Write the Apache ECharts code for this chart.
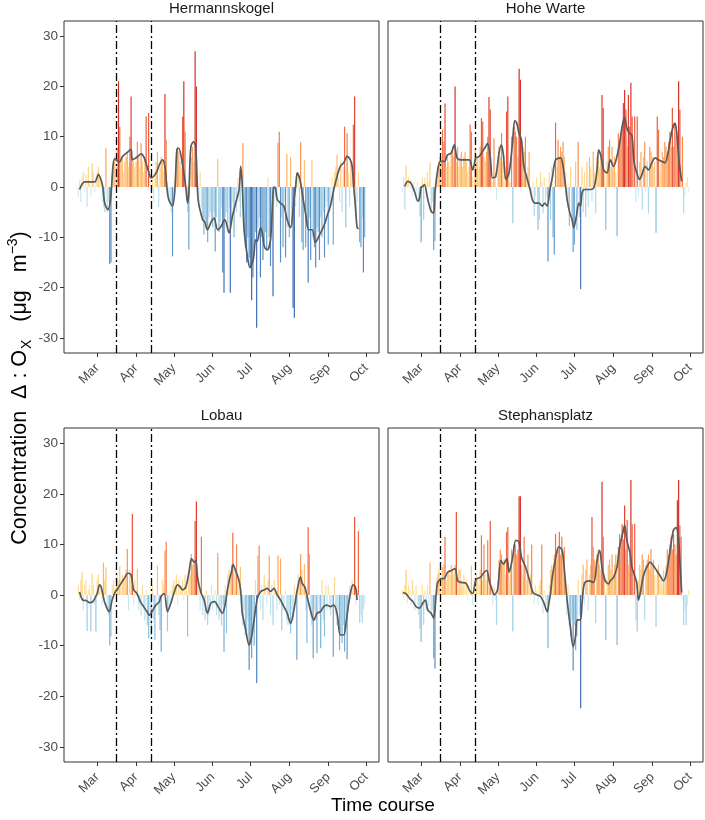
<!DOCTYPE html>
<html>
<head>
<meta charset="utf-8">
<script src="https://cdn.jsdelivr.net/npm/echarts@6/dist/echarts.min.js"></script>
<style>
  html, body { margin: 0; padding: 0; background: #fff; }
  #chart { width: 705px; height: 820px; }
</style>
</head>
<body>
<div id="chart"></div>
<script>
// day index 0 = 15 Feb 2020 ... 228 = 30 Sep 2020
const monthTicks = [15, 46, 76, 107, 137, 168, 199, 229];
const monthLabels = ["Mar", "Apr", "May", "Jun", "Jul", "Aug", "Sep", "Oct"];
const yTicks = [-30, -20, -10, 0, 10, 20, 30];
const lockdownDays = [30, 58];
const stations = ["Hermannskogel", "Hohe Warte", "Lobau", "Stephansplatz"];

// daily differences, one value per day (Feb | Mar | Apr | May | Jun | Jul | Aug | Sep)
const hermBars = [
  -2, 1.5, -3, 2, 3, -1, 2.5, -4, 4, 1, -2, 4.7, 3, -1, 2,
  3, 4, 2, 1.5, -3, -4, -5, 7.7, -5, -3, -15.3, -15, 3, 5, 6, 4, 7.7, 21, 12, 5, 6, 3, 5, 6, 7, 4, 10, 18, 6, 5, 4,
  5, 9, 6, 4, 8.7, 5, 3, 6, 14, 2, 14.7, 1, -1, 2, -3, 3, 5, 7, -4, 4, 6, 5, 3, 18.5, 9.4, 1, -2, -3, -5, -13.8,
  -3, 2, 6, 8, 7, 5, 4, 14, 21, 11, -2, -5, -12.4, 3, 6, 8, 5, 27, 20, -1, -3, 3, -4, -6, -9.5, -7, -8, -11, -6, -5, -7,
  -8, -5, -12.8, -6, 5.6, -9, -7, -4, -17, -21, -6, -5, -8, -4, -21, -7, -3, -10, -2, -5, 2, -3, -6, 1, 8.7, -9, -12, -15, -10, -14,
  -16, -22.5, -18, -12, -9, -28, -8, -6, -18, -10, -14.5, -11, -9, -12.5, 2, -10, -15.7, -5, -21.7, -3, -2, -4, 8.8, 11, -15, -6, -12, -3, -14, 6.6, -8,
  -10, 6, -7, -24, -26, -4, 3, 2, -6, 8.9, -11, -12.5, 5.4, -12, -8, -19, -6, -14.5, 5.4, -10, -12, -16, -8, -9, -14.5, -6, -10, -5, -14, -4, -3,
  -11.5, -5, -3, 2, -11.5, 3, 4, 6.4, 2, -3, 5, -5, 4, 12, -8, 10.7, 3, -4, 5, 2, 12.4, 18, -6, -3, 3, -11, -12, -6, -17, -10
];
const hoheBars = [
  -1, 2, -4.5, 4.4, 1, 2, -1, 1.5, -2, 1, -1, -2.5, 1, -3, -5.8,
  -11, 2, -6.5, 2, -2, 3, 1, 4.8, -5.2, -3, -12.5, -10.8, 2, 4, 5, 6, 5, 11.4, 9, 16.6, 4, 6, 5, 4, 7, 8, 6, 20, 5, 8, 4,
  6, 7, 4, 6, 7, 5, 3, 4, 12.4, 11, 2, 1, 7.4, 5, 6, 4, 8, 13.7, 13, 6, 5, 7, 10, 17.9, 15.4, 2, 1, 9.7, 3, -2.5,
  3, 8, 6, 10.7, 5, 2, 4, 15, 18, 3, 1, 10, -7.2, 12, 11, 10, 6, 23.5, 21.3, 9, 8, 7, 10, 2, 4, 7, -1, -2, 1, -5.8, -2,
  2, -8.5, -6.5, 3, 1, -5.2, 2, -3, -2, -14.8, 3, -6.5, 4, -10, -13.4, 12.8, 4, 9.4, 6, 8, 7, 9, 6, 3, -2, -4, -7.8, 4, -6, -12.9,
  -11.5, 5, -8.5, 9, -6, -20.3, 4, -5, 3, -6, 5, -4, 6, 4, -3, 7, 3, -5.2, 6, 5, 4, 6, 18.3, 15.7, 3, -8.5, 5, 8, 9.4, 4, 8,
  5, 6, 3, -9.8, 10.7, 9, 10, 12, 16.7, 19.3, 15.4, 8, 18.3, 12, 20.7, 14, 6, 14, -3, 14, -2, 5, 7, -4.5, 6, 9, -1, 5, -5.2, 8, 7,
  6, 4, 5, -9.1, 14, 11.4, 3, 5, 7, 6, 9, 8, 7, 9, 11, 8, 15.7, 8, 12.7, 10, 9, 21, 15.4, 4, 10, -5.2, -2, 1, 2, -1
];
const lobauBars = [
  2, -1, 3, 4.5, -3, 2, 3, -7.1, 1, 2, -7.2, 4.2, 2, -2, -7.2,
  3, 4, 2, 1, -2, 6.4, 3, 5.5, -3, -4, -10, -8.2, 2, 3, 1, 2, 4, 3, 5.8, 2, 4, 3, 3, 5, 9.1, -3, 5, 4, 16, -2, 3,
  1, 5.2, -3, -2, -4, 2, -3, -5, 1, -6, -8.6, -3, -7.9, 2, -5, -8.9, -2, 5.8, -4, -6.9, -11.2, 3, 2, 8.8, 10.5, -7.2, -3, -2, 1, 2,
  3, 2, 4, -2, 3, 2, 1, 3, -1, 4, 2, -8.2, 5, 4, 8.1, 6, 7, 14.6, 18.5, 3, 2, -3, 11.5, -4, -2, -5, 1, -6, -4, -3, 2,
  -3, -2, 1, -4, 8.3, -5, -3, -6, -2, -11.2, 2, -7.6, 4, 5, 3, 6, 12.3, 4, 5, 10, 3, 2, 5.6, -4, -6, -3, -8, -7, -5, -14.8,
  -9, -12.5, -6, -10, 3, -17.4, 7.8, 9.8, -3, 2, -5, 4, 2, -2, 3, 7.8, -4, 2, -6, 3, 1, -3, 7.8, -2, 7.2, -7, -3, -2, 1, -5, -6,
  -4, -7.6, -3, -5, 2, -2, -12.8, 4, 3, 8.1, 5, 2, 6.1, -3, -9.5, 13.4, 8.1, -4, -6, -12.5, -3, -5, -11.5, -2, -4, -10.5, 3, -5, -8.2, 2, -3,
  2, -3, -4, -2, -12.2, 3.5, -4, -6, -3, -10.9, -8, -9.5, -6, -11.2, -4, -12.7, -3, 2, -1, 3, 2, 15.4, -2, 1, 12.6, -5.5, -4, -5.5, -3, -2
];
const stephBars = [
  1, -1, 2, 5, -1.6, 2, 1, -2, 3, 1, -3, 2, -2, -4, -6.6,
  -9.3, 2, -5.9, 1, -3, 2, -2, 6.4, -4, -3, -12.5, -14.5, 3, 4, 5, 4, 3, 5.5, 6, 11.5, 3, 4, 5, 4, 6, 5, 4, 6, 16.4, 3, 5,
  5, 3, 2, 4, 1, 3, -1, 2, 1, 5.8, -2, 1, 2, 4, 3, 2, 5, 11.8, 3, 10, 4, 3, 10.8, 2, 14.6, 1, -2, 2, -1, -5.9,
  3, 7, 9, 8, 6, 7, 4, 12.5, 13.4, 3, 5, 9, -7.2, 10, 10, 8, 9, 19.5, 19.5, 6, 4, 11.5, 5, 3, 8, 2, 4, 10, 1, -2, 2,
  1, -2, 2, 3, 10, -3.6, 1, -2, -2, -10.5, 2, 5, 6, 4, 8, 12.1, 7, 9, 12.5, 8, 11.5, 6, 9.5, 3, -4, 2, -6, -8, -5, -14.9,
  -6, -10.9, -8.2, 3, -4, -22.4, 4, 6, -2, 5, 7, -3, 4, 6, 15.4, 9.5, 7, -5.6, 8, 9, 6, 5, 22.4, 11.5, 4, -8.9, 3, 6, 7, 5, 8,
  4, 6, 8, -9.9, 9.5, 12, 10, 14, 11, 17.7, 9, 14.8, 6, 8, 22.7, 14, 5, 14.1, -5, -7.2, 3, 6, 5, 8, 7, -5, 6, 7, 8, 5, 9.1,
  6, 7, 4, -6.3, 5, 6, 3, 4, 2, 5, 3, 6, 9, 8, 10, 11.5, 9, 12, 10, 8, 18.7, 22.7, 13.8, 11.5, -1, -6, -3, -6, -2, 1
];

// smoothed course, read as (day, value) points
const hermLineDays = [1,5,13,16,18,19.5,21,23.5,25.6,29,33,35,39,42,43,46,50,52.5,56,58,62,64.5,67,69,70.5,72,75,77,78.5,80,83,85.6,87,88,89.6,91.7,93.5,95.4,99,100.7,102.8,105.5,108,111,113.4,116.6,120,122.7,125.3,128,129.3,130.6,132,134.6,136.7,139.3,141.2,142.5,145,146.5,148.3,150.5,153,154.4,155.7,157,158.4,161,163.7,166.3,169,171.7,173,174.3,176.4,178.2,180.9,183.5,186.2,188.8,191.5,195.4,198,200.7,203.4,206,208.6,211.3,214,216.6,218,219.3,220.6,222,223.2];
const hermLineVals = [-0.5,1,1,2.5,1.5,0,-3.2,-4.5,-2.6,5.6,5,6,6.9,7.5,5.4,5.8,6.6,5.8,3,1.8,2.8,4.4,5.4,4,0,-2.5,-3.8,0,7.5,7.7,4.4,0,-3.2,-1.2,8,9,8,-2.5,-6.5,-7,-8.5,-7.1,-6.2,-8.5,-7.9,-6.5,-9.1,-5.8,-3.2,-0.5,4.1,0,-8.5,-13.8,-16,-14.4,-10.5,-10.8,-8.1,-9.1,-12,-12.5,-10.5,-4.5,0,-0.2,-2.5,-3.2,-3.8,-6.5,-8.1,-2.5,0,2.8,1.5,-1.2,-5.2,-8.5,-8.5,-11,-9.8,-7.8,-5.8,-3.8,-0.5,2.1,4.1,4.8,6.1,5.4,4.1,0,-3.8,-8.1,-8.3];
const hoheLineDays = [1.8,4.4,7,9.7,12.4,13.7,15,16.3,17.6,20.3,22.9,25,26,28.2,30.3,33.5,36.1,38.8,41.4,43.5,46.7,49.3,53.3,56,58.6,61.2,63.9,66.5,67.8,70,71.8,74.4,77,78.9,80.5,82.4,85,87.7,89.5,91.1,92.9,94.8,96.4,97.4,99,101.7,103.5,105.4,108.8,111.4,113.3,115.4,117.5,119.4,122,126,128,130,131.2,133.4,135.2,136.5,138.6,140.5,141.8,143.1,145,148.4,152.4,155,156.3,158.2,160.3,163,165.6,168.2,170.9,173,174.8,176.9,178.8,180.9,182.8,184.6,186.7,188.8,190.7,193.3,196,198.6,201.3,203.9,206.5,209.2,211.8,214.5,217.1,218.4,220.5,222.4];
const hoheLineVals = [0.1,1.1,0.7,-0.9,-2.8,-2.2,0,0.1,0.5,-2.5,-4.8,-5.2,-1.2,3.4,5.1,5.1,6.4,6.7,8.4,5.8,5.4,5.4,5.4,3.4,5.8,6.1,7.1,8.1,8.7,6.1,1.8,2.1,6.8,8.4,6.4,1.5,2.8,8.7,13.2,12.7,10.7,9.4,4.8,3.4,2,-0.5,-2.5,-3.2,-3.2,-3.8,-3.2,-3.8,-0.5,1.8,5.4,5.8,4.1,0.1,-2.5,-5.2,-6.5,-8.1,-5.8,-3.2,-3.8,-1.2,-0.5,-0.5,-0.2,3.4,7.4,6.1,3.4,2.8,5.4,4.1,6.1,8.7,11.7,13.9,11.7,10.7,10.3,4.8,2.8,1.5,2.4,4.1,3.4,4.8,5.8,5.4,5.1,4.8,7.1,11,12.7,11,4.8,1.1];
const lobauLineDays = [1,3.6,6.3,8.9,11.6,15,16.9,18.2,20.8,23.5,24.8,26.6,28.8,31.4,34,36.7,39.3,42,44.1,46.7,49.4,52,54.7,56.5,59.2,61.8,64.5,65.8,68.4,71,73.7,76.4,79,81.1,83,85.6,88.3,90.1,92.2,93.6,94.9,97.5,100.2,102.8,105.5,108.6,111.3,114.7,116.6,118.7,120.6,121.9,123.2,125.3,128,129.3,130.6,133.3,135.9,137.7,139.9,142.5,145.2,147.8,150.4,153.1,155.7,158.4,161,163.7,166.3,169,171.6,174.3,176.9,178.2,180.3,182.2,184.8,187.5,190.1,192.8,195.4,198,200.7,203.4,206,208.6,211.3,213.4,215.3,216.6,218.7,220.6,221.9];
const lobauLineVals = [0.6,-1,-1.1,-1.5,-1.3,0.3,2,1.6,-1.3,-3,-3.3,-1.3,0.3,1.3,2.3,3.3,4.3,4,1,0.3,-1.3,-2.3,-3.3,-4,-3,-2,-1.3,-0.3,0.3,-3.3,-1.6,0.6,2,1.6,1,1.6,4.8,7.2,6.5,6.8,3.5,0.6,-1,-3.6,-1.6,-1.3,-2.3,-3.6,-2.3,1,3.3,4.5,6,4.8,2.8,0.8,-3.6,-6.9,-9.9,-8.6,-5,-0.7,0.7,1,1.3,0.7,1.3,0,-1,-2.3,-3.6,-5.6,-3,1,3.6,2.3,1.6,-0.3,-3,-5,-3.6,-3.3,-2.3,-2,-2.3,-2,-3.6,-7.9,-7.9,-5,-1.6,0.3,2,1.6,-1];
const stephLineDays = [0.5,3.1,5.8,8.4,11,13.7,16.3,18.4,20.3,22.9,25,26.9,28.2,30.9,33.5,36.1,38.8,42,44.1,46.7,50.7,53.3,56,58.6,62.6,65.2,67.3,69.2,71.8,73.1,75.8,78.4,80.5,83.2,85,87.7,90.3,92.9,94.8,96.4,98.2,100.9,103.5,104.8,107.5,110.1,112.8,115.4,116.7,118,119.4,122,124.6,127.3,128.6,130,131.2,133.9,136,137.9,139.2,141.8,143.1,145,148.4,152.4,155,157.1,159,161.6,164.3,165.6,168.2,170.9,173,175.4,177,178.8,181.4,182.8,185.4,186.7,188,189.4,192,194.6,197.3,199.9,202.6,205.2,207.9,210.5,213.2,215.8,217.9,219.8,221.1,222.4];
const stephLineVals = [0.5,0.2,-0.7,-1.3,-2.3,-2.6,-1.6,-1,-3,-3.6,-4.6,0,2.5,3.2,3.3,4.5,4.8,5.2,2.8,2.5,2.3,1,0.3,3,3.6,4.5,4.8,2.8,0.8,0,1,6.8,6.1,7.2,4.5,7.2,10.8,10.5,7.5,6.5,5.5,3.2,0.8,0.3,0,-0.3,-1.6,-3.3,-1.6,0.3,3.5,7.2,9.5,8.8,6.1,2.2,-1,-6.6,-10.2,-8.2,-4.9,-4.9,-1.6,2.3,2.8,2.5,6.8,8.8,5.5,2.8,2.2,2.8,3.5,5.5,9.5,12.1,13.8,10.8,8.2,5.5,3.5,2.3,-1,0.3,3.8,5.5,6.5,5.8,4.8,3.8,2.8,4.5,8.8,12.8,13.3,11.5,6.1,0.5];

const panels = [
  { bars: hermBars, days: hermLineDays, vals: hermLineVals },
  { bars: hoheBars, days: hoheLineDays, vals: hoheLineVals },
  { bars: lobauBars, days: lobauLineDays, vals: lobauLineVals },
  { bars: stephBars, days: stephLineDays, vals: stephLineVals },
];

// RdYlBu-like ramp
const posStops = [[0, "#ffeda8"], [4, "#fed587"], [7, "#fdae61"], [12, "#f46d43"], [20, "#d73027"]];
const negStops = [[0, "#e4f4f9"], [4, "#bfe2ef"], [8, "#92c5e0"], [14, "#5d95c9"], [22, "#3e6cb2"]];

function hexToRgb(h) {
  return [1, 3, 5].map((i) => parseInt(h.slice(i, i + 2), 16));
}
function ramp(stops, x) {
  if (x <= stops[0][0]) return stops[0][1];
  for (let i = 1; i < stops.length; i++) {
    if (x <= stops[i][0]) {
      const t = (x - stops[i - 1][0]) / (stops[i][0] - stops[i - 1][0]);
      const a = hexToRgb(stops[i - 1][1]);
      const b = hexToRgb(stops[i][1]);
      const c = a.map((v, k) => Math.round(v + (b[k] - v) * t));
      return `rgb(${c[0]},${c[1]},${c[2]})`;
    }
  }
  return stops[stops.length - 1][1];
}
function barColor(v) {
  return v >= 0 ? ramp(posStops, v) : ramp(negStops, -v);
}

const grids = [
  { left: 64, top: 21, width: 315, height: 332 },
  { left: 388, top: 21, width: 315, height: 332 },
  { left: 64, top: 428, width: 315, height: 334 },
  { left: 388, top: 428, width: 315, height: 334 },
];

const chart = echarts.init(document.getElementById("chart"));
const font = "Liberation Sans, Arial, sans-serif";

chart.setOption({
  animation: false,
  backgroundColor: "#fff",
  title: stations.map((s, i) => ({
    text: s,
    left: grids[i].left + grids[i].width / 2,
    top: grids[i].top - 20,
    padding: 0,
    textAlign: "center",
    textStyle: { fontSize: 15, fontWeight: "normal", color: "#1a1a1a", fontFamily: font },
  })),
  grid: grids.map((g) => ({ ...g, show: true, borderColor: "#333", borderWidth: 1, backgroundColor: "transparent" })),
  xAxis: grids.map((g, i) => ({
    gridIndex: i,
    type: "value",
    min: -11.4,
    max: 239.4,
    splitLine: { show: false },
    axisLine: { show: false, onZero: false },
    axisTick: { show: true, customValues: monthTicks, length: 4, lineStyle: { color: "#333" } },
    axisLabel: {
      customValues: monthTicks,
      formatter: (v) => monthLabels[monthTicks.indexOf(v)],
      rotate: 45,
      margin: 13,
      color: "#4d4d4d",
      fontSize: 13,
      fontFamily: font,
    },
  })),
  yAxis: grids.map((g, i) => ({
    gridIndex: i,
    type: "value",
    min: -33,
    max: 33,
    splitLine: { show: false },
    axisLine: { show: false, onZero: false },
    axisTick: { show: i % 2 === 0, customValues: yTicks, length: 4, lineStyle: { color: "#333" } },
    axisLabel: {
      show: i % 2 === 0,
      customValues: yTicks,
      margin: 6,
      color: "#4d4d4d",
      fontSize: 13.5,
      fontFamily: font,
    },
  })),
  graphic: [
    {
      type: "text",
      x: 383,
      y: 806,
      style: { text: "Time course", font: `19px ${font}`, fill: "#000", align: "center", verticalAlign: "middle" },
    },
    {
      type: "text",
      x: 20,
      y: 388,
      rotation: Math.PI / 2,
      style: {
        text: "{a|Concentration  Δ : O}{s|X}{a|   (μg   m}{p|−3}{a|)}",
        align: "center",
        verticalAlign: "middle",
        fill: "#000",
        rich: {
          a: { font: `21.5px ${font}`, fill: "#000", lineHeight: 28 },
          s: { font: `14px ${font}`, fill: "#000", verticalAlign: "bottom", lineHeight: 28, padding: [0, 0, 0, 1] },
          p: { font: `14px ${font}`, fill: "#000", verticalAlign: "top", lineHeight: 28 },
        },
      },
    },
  ],
  series: panels.flatMap((p, i) => [
    {
      type: "bar",
      xAxisIndex: i,
      yAxisIndex: i,
      barWidth: 1.2,
      data: p.bars.map((v, d) => [d, v]),
      itemStyle: { color: (params) => barColor(params.value[1]) },
      markLine: {
        silent: true,
        symbol: "none",
        label: { show: false },
        lineStyle: { color: "#000", width: 1.3, type: [8, 3, 2, 3] },
        data: lockdownDays.map((d) => ({ xAxis: d })),
      },
    },
    {
      type: "line",
      xAxisIndex: i,
      yAxisIndex: i,
      smooth: 0.3,
      showSymbol: false,
      data: p.days.map((d, k) => [d, p.vals[k]]),
      lineStyle: { color: "#5a5a5a", width: 1.7 },
      z: 5,
    },
  ]),
});
</script>
</body>
</html>
